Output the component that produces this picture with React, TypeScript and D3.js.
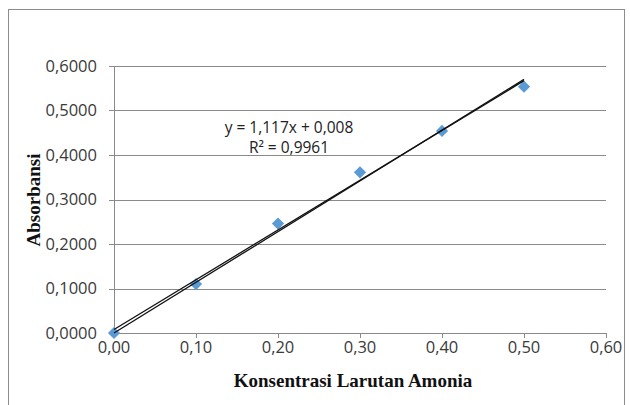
import * as d3 from "d3";
import React from "react";

// concentration (x) and absorbance (y)
const konsentrasi = [0.0, 0.1, 0.2, 0.3, 0.4, 0.5];
const absorbansi = [0.0, 0.11, 0.246, 0.361, 0.454, 0.5535];
const xTicks = [0, 0.1, 0.2, 0.3, 0.4, 0.5, 0.6];
const yTicks = [0, 0.1, 0.2, 0.3, 0.4, 0.5, 0.6];
const equationLabel = "y = 1,117x + 0,008";
const r2Label = "R² = 0,9961";

const width = 630;
const height = 405;
const marginLeft = 114;
const marginRight = 24;
const marginTop = 66;
const marginBottom = 72;

const fmt = (v: number, digits: number) => v.toFixed(digits).replace(".", ",");

export default function App() {
  const x = d3
    .scaleLinear()
    .domain([0, 0.6])
    .range([marginLeft, width - marginRight]);
  const y = d3
    .scaleLinear()
    .domain([0, 0.6])
    .range([height - marginBottom, marginTop]);

  const pts = konsentrasi.map((k, i) => ({ k, a: absorbansi[i] }));

  // least squares with intercept
  const mx = d3.mean(konsentrasi) as number;
  const my = d3.mean(absorbansi) as number;
  const sxy = d3.sum(pts, (p) => (p.k - mx) * (p.a - my));
  const sxx = d3.sum(pts, (p) => (p.k - mx) ** 2);
  const slope = sxy / sxx;
  const intercept = my - slope * mx;
  // least squares through origin
  const slope0 =
    d3.sum(pts, (p) => p.k * p.a) / d3.sum(pts, (p) => p.k * p.k);

  const xMin = d3.min(konsentrasi) as number;
  const xMax = d3.max(konsentrasi) as number;
  const fit1 = [xMin, xMax].map((v) => [v, slope * v + intercept]);
  const fit2 = [xMin, xMax].map((v) => [v, slope0 * v]);
  const pathOf = (arr: number[][]) =>
    d3
      .line<number[]>()
      .x((d) => x(d[0]))
      .y((d) => y(d[1]))(arr) as string;

  const diamond = d3.symbol(d3.symbolDiamond2, 95)() as string;
  const tickFont = "'Open Sans', sans-serif";

  return (
    <svg
      width={width}
      height={height}
      style={{ position: "absolute", left: 0, top: 0, background: "#fff" }}
    >
      <rect
        x={8.5}
        y={9.5}
        width={616}
        height={400}
        fill="#fff"
        stroke="#8c8c8c"
        strokeWidth={1}
      />
      {/* horizontal gridlines + y ticks */}
      {yTicks.map((t) => (
        <g key={"y" + t}>
          <line
            x1={marginLeft - 5}
            x2={width - marginRight}
            y1={Math.round(y(t)) + 0.5}
            y2={Math.round(y(t)) + 0.5}
            stroke="#8a8a8a"
          />
          <text
            x={97}
            y={y(t)}
            dy="0.36em"
            textAnchor="end"
            fontFamily={tickFont}
            fontSize={16.5}
            fill="#3a3a3a"
          >
            {fmt(t, 4)}
          </text>
        </g>
      ))}
      {/* y axis line */}
      <line
        x1={marginLeft + 0.5}
        x2={marginLeft + 0.5}
        y1={y(0.6)}
        y2={y(0)}
        stroke="#8a8a8a"
      />
      {/* x ticks */}
      {xTicks.map((t) => (
        <g key={"x" + t}>
          <line
            x1={Math.round(x(t)) + 0.5}
            x2={Math.round(x(t)) + 0.5}
            y1={y(0)}
            y2={y(0) + 5}
            stroke="#8a8a8a"
          />
          <text
            x={x(t)}
            y={353}
            textAnchor="middle"
            fontFamily={tickFont}
            fontSize={16.5}
            fill="#3a3a3a"
          >
            {fmt(t, 2)}
          </text>
        </g>
      ))}
      {/* data points */}
      {pts.map((p) => (
        <path
          key={"p" + p.k}
          d={diamond}
          transform={`translate(${x(p.k)},${y(p.a)})`}
          fill="#5b9bd5"
        />
      ))}
      {/* trendlines */}
      <path d={pathOf(fit1)} fill="none" stroke="#111" strokeWidth={1.3} />
      <path d={pathOf(fit2)} fill="none" stroke="#111" strokeWidth={1.3} />
      {/* equation */}
      <text
        x={289}
        y={133}
        textAnchor="middle"
        fontFamily={tickFont}
        fontSize={15.5}
        fill="#222"
      >
        {equationLabel}
      </text>
      <text
        x={289}
        y={153}
        textAnchor="middle"
        fontFamily={tickFont}
        fontSize={15.5}
        fill="#222"
      >
        {r2Label}
      </text>
      {/* axis titles */}
      <text
        x={353}
        y={387}
        textAnchor="middle"
        fontFamily="'Liberation Serif', serif"
        fontWeight="bold"
        fontSize={19}
        fill="#111"
      >
        Konsentrasi Larutan Amonia
      </text>
      <text
        transform={`translate(40,200) rotate(-90)`}
        textAnchor="middle"
        fontFamily="'Liberation Serif', serif"
        fontWeight="bold"
        fontSize={19}
        fill="#111"
      >
        Absorbansi
      </text>
    </svg>
  );
}
